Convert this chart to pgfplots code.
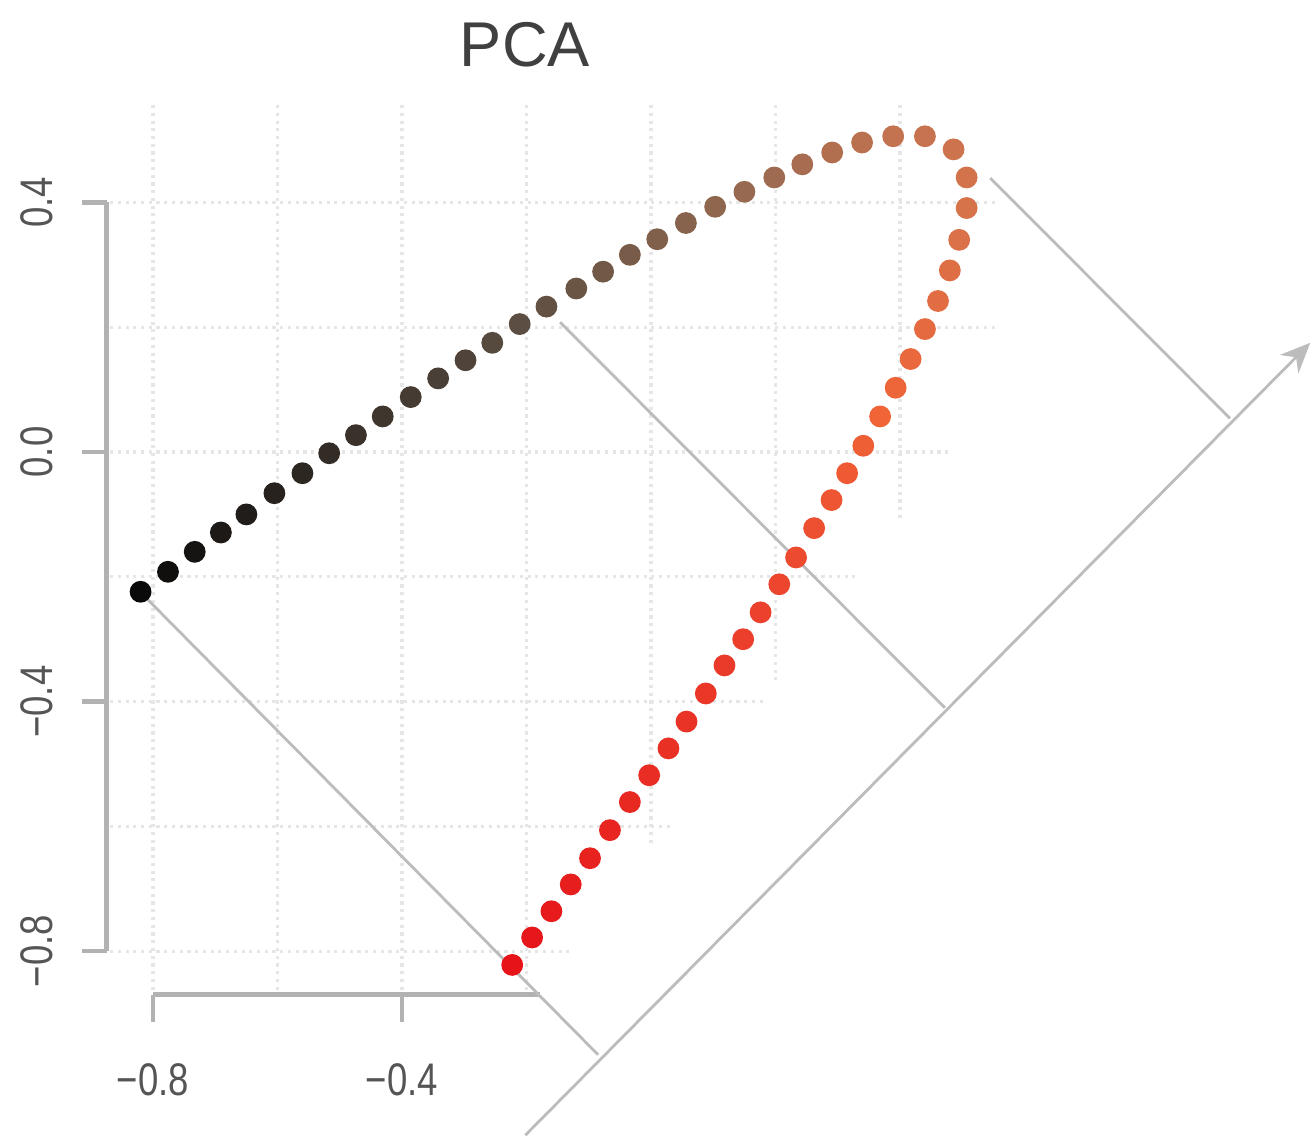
\documentclass[border=0pt]{standalone}
\usepackage{pgfplots}
\pgfplotsset{compat=1.18}
\usepackage{pgfplotstable}
\usepackage{fontspec}
\setmainfont{Liberation Sans}
\usetikzlibrary{arrows.meta}
\definecolor{axgray}{RGB}{178,178,178}
\definecolor{diag}{RGB}{188,188,188}
\definecolor{gridc}{RGB}{230,230,230}
\definecolor{labc}{RGB}{85,85,85}
\pgfplotstableread{
i x y
1 -0.820 -0.224
2 -0.776 -0.192
3 -0.733 -0.160
4 -0.691 -0.129
5 -0.650 -0.100
6 -0.605 -0.066
7 -0.560 -0.034
8 -0.517 -0.002
9 -0.474 0.027
10 -0.431 0.057
11 -0.386 0.088
12 -0.342 0.118
13 -0.298 0.147
14 -0.255 0.175
15 -0.211 0.205
16 -0.168 0.233
17 -0.120 0.262
18 -0.077 0.289
19 -0.034 0.316
20 0.010 0.341
21 0.056 0.367
22 0.103 0.393
23 0.150 0.417
24 0.198 0.440
25 0.243 0.461
26 0.291 0.480
27 0.339 0.496
28 0.389 0.506
29 0.440 0.506
30 0.486 0.485
31 0.507 0.440
32 0.507 0.391
33 0.495 0.340
34 0.480 0.291
35 0.461 0.242
36 0.440 0.197
37 0.417 0.149
38 0.393 0.103
39 0.368 0.057
40 0.341 0.010
41 0.315 -0.034
42 0.290 -0.077
43 0.262 -0.122
44 0.233 -0.169
45 0.206 -0.212
46 0.176 -0.257
47 0.148 -0.300
48 0.118 -0.342
49 0.088 -0.387
50 0.057 -0.432
51 0.028 -0.475
52 -0.003 -0.518
53 -0.034 -0.561
54 -0.066 -0.606
55 -0.098 -0.651
56 -0.129 -0.693
57 -0.160 -0.736
58 -0.191 -0.778
59 -0.223 -0.822
}\pcadata
\newcommand{\lab}[1]{\scalebox{0.8}[1]{#1}}
\begin{document}
\begin{tikzpicture}
\begin{axis}[
  width=13.12cm, height=11.37cm, scale only axis,
  xmin=-1.0458, xmax=1.0618, ymin=-1.0978, ymax=0.7244,
  hide axis, clip=false,
  colormap={pca}{rgb255(0cm)=(10,10,10); rgb255(14cm)=(92,78,66); rgb255(22cm)=(150,105,80); rgb255(27cm)=(195,115,80); rgb255(31cm)=(215,115,75); rgb255(38cm)=(240,100,55); rgb255(45cm)=(235,65,45); rgb255(58cm)=(230,20,25)},
  point meta min=1, point meta max=59,
  gridl/.style={gridc, line width=0.9pt, dash pattern=on 0.9pt off 1.3pt, forget plot},
  diagl/.style={diag, line width=0.8pt, forget plot},
]
\path (rel axis cs:0,0) rectangle (rel axis cs:1,1);
% grid (vertical)
\addplot[gridl] coordinates {(-0.8,0.556) (-0.8,-0.862)};
\addplot[gridl] coordinates {(-0.6,0.556) (-0.6,-0.870)};
\addplot[gridl] coordinates {(-0.4,0.556) (-0.4,-0.862)};
\addplot[gridl] coordinates {(-0.2,0.556) (-0.2,-0.870)};
\addplot[gridl] coordinates {(0,0.556) (0,-0.633)};
\addplot[gridl] coordinates {(0.2,0.556) (0.2,-0.365)};
\addplot[gridl] coordinates {(0.4,0.556) (0.4,-0.109)};
% grid (horizontal)
\addplot[gridl] coordinates {(-0.869,0.4) (0.556,0.4)};
\addplot[gridl] coordinates {(-0.869,0.2) (0.556,0.2)};
\addplot[gridl] coordinates {(-0.869,0) (0.484,0)};
\addplot[gridl] coordinates {(-0.869,-0.2) (0.328,-0.2)};
\addplot[gridl] coordinates {(-0.869,-0.4) (0.183,-0.4)};
\addplot[gridl] coordinates {(-0.869,-0.6) (0.031,-0.6)};
\addplot[gridl] coordinates {(-0.869,-0.8) (-0.130,-0.8)};
% axes
\addplot[axgray, line width=1.4pt, forget plot] coordinates {(-0.874,-0.8) (-0.874,0.4)};
\foreach \v in {-0.8,-0.4,0,0.4} {
  \edef\temp{\noexpand\addplot[axgray, line width=1.2pt, forget plot] coordinates {(-0.874,\v) (-0.914,\v)};}
  \temp
}
\addplot[axgray, line width=1.4pt, forget plot] coordinates {(-0.8,-0.870) (-0.178,-0.870)};
\addplot[axgray, line width=1.2pt, forget plot] coordinates {(-0.8,-0.870) (-0.8,-0.913)};
\addplot[axgray, line width=1.2pt, forget plot] coordinates {(-0.4,-0.870) (-0.4,-0.913)};
% rotated axis and projections
\addplot[diagl, -{Stealth[length=3mm,width=2.6mm]}] coordinates {(-0.202,-1.095) (1.059,0.175)};
\addplot[diagl] coordinates {(-0.808,-0.237) (-0.085,-0.966)};
\addplot[diagl] coordinates {(-0.146,0.208) (0.472,-0.410)};
\addplot[diagl] coordinates {(0.545,0.439) (0.930,0.054)};
% points
\addplot[scatter, only marks, mark=*, mark size=2.9pt,
  scatter/use mapped color={draw=mapped color, fill=mapped color},
  point meta=explicit] table[x=x, y=y, meta=i] {\pcadata};
% labels
\node[labc, font=\fontsize{13}{15}\selectfont] at (axis cs:-0.8,-1.006) {\lab{−0.8}};
\node[labc, font=\fontsize{13}{15}\selectfont] at (axis cs:-0.4,-1.006) {\lab{−0.4}};
\node[labc, font=\fontsize{13}{15}\selectfont, rotate=90] at (axis cs:-0.986,0.4) {\lab{0.4}};
\node[labc, font=\fontsize{13}{15}\selectfont, rotate=90] at (axis cs:-0.986,0) {\lab{0.0}};
\node[labc, font=\fontsize{13}{15}\selectfont, rotate=90] at (axis cs:-0.986,-0.4) {\lab{−0.4}};
\node[labc, font=\fontsize{13}{15}\selectfont, rotate=90] at (axis cs:-0.986,-0.8) {\lab{−0.8}};
\node[black!75, font=\fontsize{18}{21}\selectfont] at (axis cs:-0.2024,0.652) {PCA};
\end{axis}
\end{tikzpicture}
\end{document}
